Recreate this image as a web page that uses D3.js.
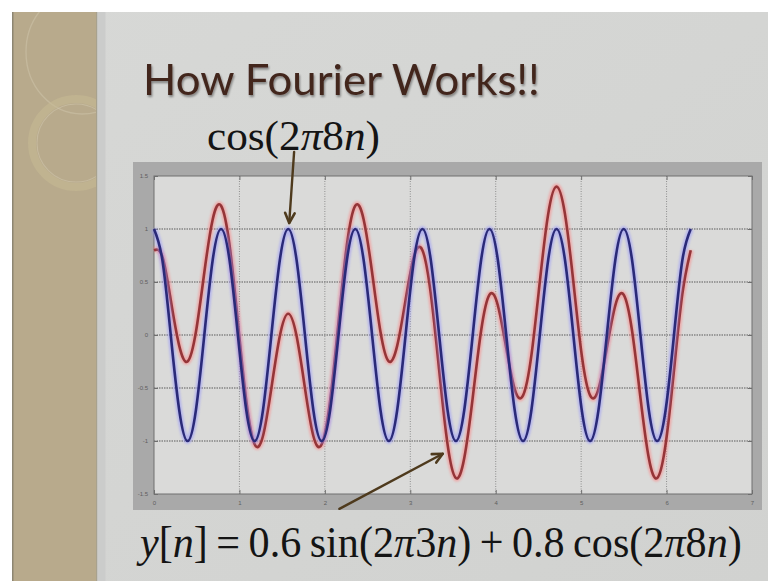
<!DOCTYPE html>
<html>
<head>
<meta charset="utf-8">
<script src="https://cdn.jsdelivr.net/npm/d3@7"></script>
<style>
  html, body { margin: 0; padding: 0; background: #ffffff; }
  svg { display: block; }
</style>
</head>
<body>
<svg id="slide" width="768" height="581"></svg>
<script>
// Sample positions n (0 .. 2π) and the two plotted signals
const nValues = [0.000, 0.098, 0.196, 0.295, 0.393, 0.491, 0.589, 0.687, 0.785, 0.884,
  0.982, 1.080, 1.178, 1.276, 1.374, 1.473, 1.571, 1.669, 1.767, 1.865,
  1.963, 2.062, 2.160, 2.258, 2.356, 2.454, 2.553, 2.651, 2.749, 2.847,
  2.945, 3.043, 3.142, 3.240, 3.338, 3.436, 3.534, 3.632, 3.731, 3.829,
  3.927, 4.025, 4.123, 4.222, 4.320, 4.418, 4.516, 4.614, 4.712, 4.811,
  4.909, 5.007, 5.105, 5.203, 5.301, 5.400, 5.498, 5.596, 5.694, 5.792,
  5.890, 5.989, 6.087, 6.185, 6.283];

// cos(2π8n)
const cosSeries = [1, 0.707, 0, -0.707, -1, -0.707, 0, 0.707,
  1, 0.707, 0, -0.707, -1, -0.707, 0, 0.707,
  1, 0.707, 0, -0.707, -1, -0.707, 0, 0.707,
  1, 0.707, 0, -0.707, -1, -0.707, 0, 0.707,
  1, 0.707, 0, -0.707, -1, -0.707, 0, 0.707,
  1, 0.707, 0, -0.707, -1, -0.707, 0, 0.707,
  1, 0.707, 0, -0.707, -1, -0.707, 0, 0.707,
  1, 0.707, 0, -0.707, -1, -0.707, 0, 0.707,
  1];

// y[n] = 0.6 sin(2π3n) + 0.8 cos(2π8n)
const ySeries = [0.80, 0.74, 0.33, -0.10, -0.25, 0.03, 0.59, 1.09, 1.22, 0.85,
  0.12, -0.62, -1.03, -0.95, -0.50, -0.01, 0.20, -0.01, -0.50, -0.95,
  -1.03, -0.62, 0.12, 0.85, 1.22, 1.09, 0.59, 0.03, -0.25, -0.10,
  0.33, 0.74, 0.80, 0.39, -0.33, -1.03, -1.35, -1.16, -0.59, 0.04,
  0.38, 0.28, -0.12, -0.51, -0.57, -0.19, 0.50, 1.14, 1.40, 1.14,
  0.50, -0.19, -0.57, -0.51, -0.12, 0.28, 0.38, 0.04, -0.59, -1.16,
  -1.35, -1.03, -0.33, 0.39, 0.80];

const xTicks = [0, 1, 2, 3, 4, 5, 6, 7];
const yTicks = [-1.5, -1, -0.5, 0, 0.5, 1, 1.5];
const xTickLabels = ["0", "1", "2", "3", "4", "5", "6", "7"];
const yTickLabels = ["-1.5", "-1", "-0.5", "0", "0.5", "1", "1.5"];

const titleText = "How Fourier Works!!";

const svg = d3.select("#slide");
const W = 768, H = 581;

// ---------- slide background ----------
const defs = svg.append("defs");
const bgGrad = defs.append("linearGradient").attr("id", "bgGrad")
  .attr("x1", "0").attr("y1", "0").attr("x2", "1").attr("y2", "1");
bgGrad.append("stop").attr("offset", "0").attr("stop-color", "#d7d8d6");
bgGrad.append("stop").attr("offset", "1").attr("stop-color", "#d1d2d0");

const glowBlur = defs.append("filter").attr("id", "soft")
  .attr("x", "-20%").attr("y", "-20%").attr("width", "140%").attr("height", "140%");
glowBlur.append("feGaussianBlur").attr("stdDeviation", 1.3);

const titleShadow = defs.append("filter").attr("id", "titleShadow")
  .attr("x", "-5%").attr("y", "-20%").attr("width", "110%").attr("height", "140%");
titleShadow.append("feGaussianBlur").attr("in", "SourceAlpha").attr("stdDeviation", 1.2).attr("result", "b");
titleShadow.append("feOffset").attr("in", "b").attr("dx", 1).attr("dy", 1.5).attr("result", "o");
titleShadow.append("feComponentTransfer").attr("in", "o").attr("result", "s")
  .append("feFuncA").attr("type", "linear").attr("slope", 0.4);
const tm = titleShadow.append("feMerge");
tm.append("feMergeNode").attr("in", "s");
tm.append("feMergeNode").attr("in", "SourceGraphic");

svg.append("rect").attr("x", 0).attr("y", 0).attr("width", W).attr("height", H).attr("fill", "#ffffff");
svg.append("rect").attr("x", 12).attr("y", 12).attr("width", W - 12).attr("height", H - 12)
  .attr("fill", "url(#bgGrad)");

// beige side band with decorative rings
const band = svg.append("g");
band.append("rect").attr("x", 12).attr("y", 12).attr("width", 85).attr("height", H - 12)
  .attr("fill", "#b8aa8c");
band.append("rect").attr("x", 12).attr("y", 12).attr("width", 1.5).attr("height", H - 12)
  .attr("fill", "#8d8672");
band.append("rect").attr("x", 96).attr("y", 12).attr("width", 1.5).attr("height", H - 12)
  .attr("fill", "#a8a28e");
band.append("rect").attr("x", 97.5).attr("y", 12).attr("width", 8).attr("height", H - 12)
  .attr("fill", "#cbcccb");
const clip = defs.append("clipPath").attr("id", "bandClip");
clip.append("rect").attr("x", 13.5).attr("y", 12).attr("width", 82.5).attr("height", H - 12);
const rings = band.append("g").attr("clip-path", "url(#bandClip)");
rings.append("ellipse").attr("cx", 82).attr("cy", 52).attr("rx", 56).attr("ry", 62)
  .attr("fill", "none").attr("stroke", "#cbc1a7").attr("stroke-width", 1.4).attr("opacity", 0.6);
rings.append("circle").attr("cx", 76).attr("cy", 143).attr("r", 44)
  .attr("fill", "none").attr("stroke", "#c6b993").attr("stroke-width", 8).attr("opacity", 0.55);
rings.append("circle").attr("cx", 76).attr("cy", 143).attr("r", 39)
  .attr("fill", "none").attr("stroke", "#cfc5aa").attr("stroke-width", 1.1).attr("opacity", 0.6);

// ---------- title ----------
function fitText(sel, x0, baseline, width) {
  const w = sel.node().getComputedTextLength();
  sel.attr("transform", `translate(${x0},${baseline}) scale(${width / w},1)`);
}

const title = svg.append("text")
  .attr("x", 0).attr("y", 0)
  .attr("font-family", "Lato, 'Open Sans', sans-serif")
  .attr("font-size", 43)
  .attr("fill", "#43271f")
  .attr("filter", "url(#titleShadow)")
  .text(titleText);
fitText(title, 143, 95, 397);

// ---------- figure frame and axes ----------
const fig = { x0: 133, y0: 162, x1: 762, y1: 510 };
const ax = { left: 154, top: 176, right: 752, bottom: 494 };

svg.append("rect").attr("x", fig.x0).attr("y", fig.y0)
  .attr("width", fig.x1 - fig.x0).attr("height", fig.y1 - fig.y0)
  .attr("fill", "#a9a9a9");
svg.append("rect").attr("x", ax.left).attr("y", ax.top)
  .attr("width", ax.right - ax.left).attr("height", ax.bottom - ax.top)
  .attr("fill", "#dadad9");

const x = d3.scaleLinear().domain([0, 7]).range([ax.left, ax.right]);
const y = d3.scaleLinear().domain([-1.5, 1.5]).range([ax.bottom, ax.top]);

// grid
const grid = svg.append("g");
grid.selectAll("line.gx").data(xTicks.slice(1, -1)).join("line")
  .attr("x1", d => x(d)).attr("x2", d => x(d))
  .attr("y1", ax.top).attr("y2", ax.bottom)
  .attr("stroke", "#8e8e8e").attr("stroke-width", 1).attr("stroke-dasharray", "1,1.5");
grid.selectAll("line.gy").data(yTicks.slice(1, -1)).join("line")
  .attr("y1", d => y(d)).attr("y2", d => y(d))
  .attr("x1", ax.left).attr("x2", ax.right)
  .attr("stroke", "#858585").attr("stroke-width", 1.3).attr("stroke-dasharray", "1.5,1");

// axes with inward ticks on all four sides
const axisStyle = g => {
  g.select(".domain").remove();
  g.selectAll(".tick line").attr("stroke", "#6f6f6f");
  g.selectAll(".tick text").attr("fill", "#5e5e5e")
    .attr("font-family", "'Liberation Sans', Arial, sans-serif").attr("font-size", 6);
};
svg.append("g").attr("transform", `translate(0,${ax.bottom})`)
  .call(d3.axisBottom(x).tickValues(xTicks).tickFormat((d, i) => xTickLabels[i])
    .tickSizeInner(-4).tickSizeOuter(0).tickPadding(7))
  .call(axisStyle);
svg.append("g").attr("transform", `translate(${ax.left},0)`)
  .call(d3.axisLeft(y).tickValues(yTicks).tickFormat((d, i) => yTickLabels[i])
    .tickSizeInner(-4).tickSizeOuter(0).tickPadding(6))
  .call(axisStyle);
svg.append("g").attr("transform", `translate(0,${ax.top})`)
  .call(d3.axisTop(x).tickValues(xTicks).tickFormat("").tickSizeInner(-4).tickSizeOuter(0))
  .call(axisStyle);
svg.append("g").attr("transform", `translate(${ax.right},0)`)
  .call(d3.axisRight(y).tickValues(yTicks).tickFormat("").tickSizeInner(-4).tickSizeOuter(0))
  .call(axisStyle);

svg.append("rect").attr("x", ax.left).attr("y", ax.top)
  .attr("width", ax.right - ax.left).attr("height", ax.bottom - ax.top)
  .attr("fill", "none").attr("stroke", "#707070").attr("stroke-width", 1);

// ---------- signals ----------
const line = d3.line().x(d => x(d[0])).y(d => y(d[1])).curve(d3.curveNatural);
const redPts = nValues.map((n, i) => [n, ySeries[i]]);
const bluePts = nValues.map((n, i) => [n, cosSeries[i]]);

const plot = svg.append("g");
function drawSignal(pts, glow, core) {
  plot.append("path").attr("d", line(pts)).attr("fill", "none")
    .attr("stroke", glow).attr("stroke-width", 6).attr("stroke-linejoin", "round")
    .attr("filter", "url(#soft)").attr("opacity", 0.5);
  plot.append("path").attr("d", line(pts)).attr("fill", "none")
    .attr("stroke", core).attr("stroke-width", 2.6).attr("stroke-linejoin", "round");
}
drawSignal(redPts, "#ff7a7a", "#953538");
drawSignal(bluePts, "#8f8fff", "#2a2a78");

// ---------- formulas ----------
const serif = "'Liberation Serif', 'Times New Roman', serif";

const cosLabel = svg.append("text").attr("font-family", serif).attr("font-size", 42).attr("fill", "#141414");
cosLabel.append("tspan").text("cos(2");
cosLabel.append("tspan").attr("font-style", "italic").text("π");
cosLabel.append("tspan").text("8");
cosLabel.append("tspan").attr("font-style", "italic").text("n");
cosLabel.append("tspan").text(")");
fitText(cosLabel, 207, 150, 173);

const yLabel = svg.append("text").attr("font-family", serif).attr("font-size", 45).attr("fill", "#141414");
yLabel.append("tspan").attr("font-style", "italic").text("y");
yLabel.append("tspan").text("[");
yLabel.append("tspan").attr("font-style", "italic").text("n");
yLabel.append("tspan").text("]\u2009=\u20090.6\u2009sin(2");
yLabel.append("tspan").attr("font-style", "italic").text("π");
yLabel.append("tspan").text("3");
yLabel.append("tspan").attr("font-style", "italic").text("n");
yLabel.append("tspan").text(")\u2009+\u20090.8\u2009cos(2");
yLabel.append("tspan").attr("font-style", "italic").text("π");
yLabel.append("tspan").text("8");
yLabel.append("tspan").attr("font-style", "italic").text("n");
yLabel.append("tspan").text(")");
fitText(yLabel, 140, 557, 602);

// ---------- pointer arrows ----------
function arrow(x1, y1, x2, y2) {
  const g = svg.append("g").attr("stroke", "#4e3a1d").attr("fill", "none")
    .attr("stroke-linecap", "round").attr("stroke-linejoin", "round");
  g.append("line").attr("x1", x1).attr("y1", y1).attr("x2", x2).attr("y2", y2).attr("stroke-width", 2.4);
  const a = Math.atan2(y2 - y1, x2 - x1), L = 11, spread = 0.45;
  const p1 = [x2 - L * Math.cos(a - spread), y2 - L * Math.sin(a - spread)];
  const p2 = [x2 - L * Math.cos(a + spread), y2 - L * Math.sin(a + spread)];
  g.append("path").attr("d", `M${p1[0]},${p1[1]} L${x2},${y2} L${p2[0]},${p2[1]}`).attr("stroke-width", 2.6);
}
// to the cos(2π8n) peak at n = π/2
arrow(x(1.64), 152, x(nValues[16]) + 1, y(1) - 6);
// to the y[n] curve on its way down near n = 3.4
arrow(x(2.17), y(-1.64), x(3.38), y(-1.12));
</script>
</body>
</html>
